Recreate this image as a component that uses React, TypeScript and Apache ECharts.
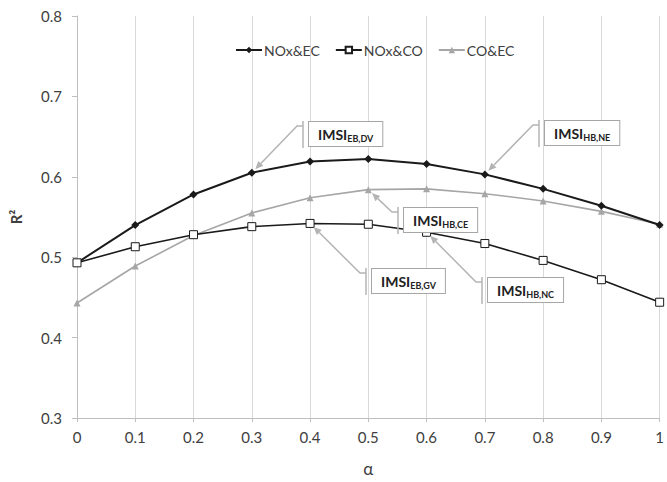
import React, { useEffect, useRef } from "react";
import * as echarts from "echarts";

const alpha = [0, 0.1, 0.2, 0.3, 0.4, 0.5, 0.6, 0.7, 0.8, 0.9, 1];
const noxEc = [0.493, 0.540, 0.578, 0.605, 0.619, 0.622, 0.616, 0.603, 0.585, 0.564, 0.540];
const noxCo = [0.493, 0.513, 0.528, 0.538, 0.542, 0.541, 0.531, 0.517, 0.496, 0.472, 0.444];
const coEc = [0.443, 0.489, 0.527, 0.555, 0.574, 0.584, 0.585, 0.579, 0.570, 0.557, 0.541];
const seriesNames = ["NOx&EC", "NOx&CO", "CO&EC"];
const calloutMain = "IMSI";
const calloutSubs = ["EB,DV", "HB,NE", "HB,CE", "EB,GV", "HB,NC"];
// which series / point each callout points to
const calloutTargets = [
  [0, 3],
  [0, 7],
  [2, 5],
  [1, 4],
  [1, 6],
];
// callout box top-left placement (pixels)
const calloutBoxes = [
  [309, 122],
  [545, 121],
  [404, 208],
  [372, 269],
  [488, 278],
];

const FONT = "Lato, 'Open Sans', sans-serif";
const ARROW = "#b4b4b4";
const W = 667;
const H = 482;

export default function App() {
  const ref = useRef<HTMLDivElement>(null);
  useEffect(() => {
    if (!ref.current) return;
    const chart = echarts.init(ref.current, undefined, { renderer: "svg", width: W, height: H });
    const seriesData = [noxEc, noxCo, coEc];
    const toPairs = (arr: number[]) => alpha.map((a, i) => [a, arr[i]]);
    chart.setOption({
      animation: false,
      backgroundColor: "#fff",
      textStyle: { fontFamily: FONT },
      grid: { left: 77, right: 6, top: 16, bottom: 45, containLabel: false },
      legend: {
        left: 230,
        top: 38,
        itemWidth: 26,
        itemHeight: 8,
        itemGap: 15,
        textStyle: { fontSize: 14, color: "#404040", fontFamily: FONT, padding: [0, 0, 0, -3] },
        data: seriesNames,
      },
      xAxis: {
        type: "value",
        min: 0,
        max: 1,
        interval: 0.1,
        name: "α",
        nameLocation: "middle",
        nameGap: 42,
        nameTextStyle: { fontSize: 17, color: "#404040", fontFamily: FONT },
        axisLine: { show: true, lineStyle: { color: "#bfbfbf", width: 1 } },
        axisTick: { show: true, length: 4, lineStyle: { color: "#bfbfbf" } },
        axisLabel: {
          fontSize: 15,
          color: "#404040",
          margin: 11,
          formatter: (v: number) => String(parseFloat(v.toFixed(1))),
        },
        splitLine: { show: true, lineStyle: { color: "#d9d9d9", width: 1 } },
      },
      yAxis: {
        type: "value",
        min: 0.3,
        max: 0.8,
        interval: 0.1,
        name: "R²",
        nameLocation: "middle",
        nameRotate: 90,
        nameGap: 54,
        nameTextStyle: { fontSize: 15, fontWeight: "bold", color: "#404040", fontFamily: FONT },
        axisLine: { show: true, lineStyle: { color: "#bfbfbf", width: 1 } },
        axisTick: { show: true, length: 5, lineStyle: { color: "#bfbfbf" } },
        axisLabel: {
          fontSize: 15,
          color: "#404040",
          margin: 15,
          formatter: (v: number) => v.toFixed(1),
        },
        splitLine: { show: false },
      },
      series: [
        {
          name: seriesNames[0],
          type: "line",
          data: toPairs(seriesData[0]),
          symbol: "diamond",
          symbolSize: 8,
          itemStyle: { color: "#1a1a1a" },
          lineStyle: { color: "#1a1a1a", width: 2 },
          z: 3,
        },
        {
          name: seriesNames[1],
          type: "line",
          data: toPairs(seriesData[1]),
          symbol: "rect",
          symbolSize: 8,
          itemStyle: { color: "#ffffff", borderColor: "#1a1a1a", borderWidth: 1 },
          lineStyle: { color: "#1a1a1a", width: 1.6 },
          z: 3,
        },
        {
          name: seriesNames[2],
          type: "line",
          data: toPairs(seriesData[2]),
          symbol: "triangle",
          symbolSize: 7,
          itemStyle: { color: "#a6a6a6" },
          lineStyle: { color: "#a6a6a6", width: 1.6 },
          z: 2,
        },
      ],
    });

    const graphics: any[] = [];
    calloutSubs.forEach((sub, k) => {
      const [si, pi] = calloutTargets[k];
      const p = chart.convertToPixel({ gridIndex: 0 }, [alpha[pi], seriesData[si][pi]]) as number[];
      const [left, top] = calloutBoxes[k];
      const bx = left - 6;
      const ey = top + 4;
      const ex = bx - 6;
      let dx = p[0] - ex;
      let dy = p[1] - ey;
      const len = Math.sqrt(dx * dx + dy * dy);
      dx /= len;
      dy /= len;
      const tip = [p[0] - dx * 5, p[1] - dy * 5];
      const base = [tip[0] - dx * 8, tip[1] - dy * 8];
      const nx = -dy;
      const ny = dx;
      graphics.push({
        type: "polyline",
        z: 100,
        shape: { points: [[bx, ey], [ex, ey], base] },
        style: { stroke: ARROW, lineWidth: 1.5, fill: null },
      });
      graphics.push({
        type: "polygon",
        z: 100,
        shape: {
          points: [
            tip,
            [base[0] + nx * 3.5, base[1] + ny * 3.5],
            [base[0] - nx * 3.5, base[1] - ny * 3.5],
          ],
        },
        style: { fill: ARROW },
      });
      graphics.push({
        type: "line",
        z: 100,
        shape: { x1: bx, y1: top - 1, x2: bx, y2: top + 26 },
        style: { stroke: ARROW, lineWidth: 1.5 },
      });
      graphics.push({
        type: "text",
        z: 101,
        x: left,
        y: top,
        style: {
          text: `{a|${calloutMain}}{b|${sub}}`,
          rich: {
            a: { fontSize: 14, fontWeight: "bold", fill: "#222", lineHeight: 18, fontFamily: FONT },
            b: { fontSize: 9, fontWeight: "bold", fill: "#222", lineHeight: 10, verticalAlign: "bottom", fontFamily: FONT },
          },
          align: "left",
          verticalAlign: "top",
          backgroundColor: "#fff",
          borderColor: "#a6a6a6",
          borderWidth: 1,
          padding: [3, 9, 3, 9],
        },
      });
    });
    chart.setOption({ graphic: graphics });

    return () => chart.dispose();
  }, []);
  return (
    <div
      ref={ref}
      style={{ position: "fixed", left: 0, top: 0, width: W, height: H, background: "#fff" }}
    />
  );
}
